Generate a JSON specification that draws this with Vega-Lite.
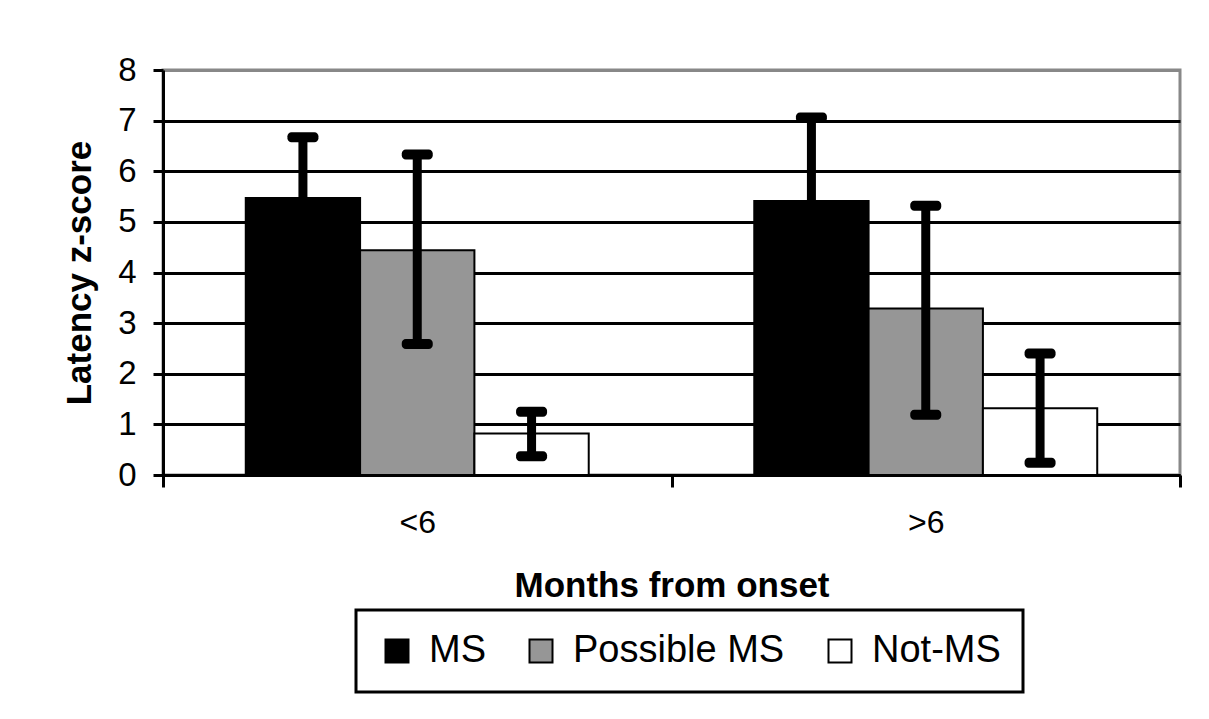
{
  "$schema": "https://vega.github.io/schema/vega-lite/v6.json",
  "width": 1017,
  "height": 405,
  "autosize": {"type": "none"},
  "padding": {"left": 163, "top": 70, "right": 29, "bottom": 244},
  "background": "white",
  "config": {
    "font": "Liberation Sans",
    "view": {"stroke": "#888888", "strokeWidth": 3}
  },
  "data": {
    "values": [
      {"onset": "<6", "group": "MS", "mean": 5.47, "lo": 4.27, "hi": 6.67},
      {"onset": "<6", "group": "Possible MS", "mean": 4.44, "lo": 2.59, "hi": 6.33},
      {"onset": "<6", "group": "Not-MS", "mean": 0.82, "lo": 0.37, "hi": 1.25},
      {"onset": ">6", "group": "MS", "mean": 5.41, "lo": 3.75, "hi": 7.06},
      {"onset": ">6", "group": "Possible MS", "mean": 3.29, "lo": 1.19, "hi": 5.32},
      {"onset": ">6", "group": "Not-MS", "mean": 1.32, "lo": 0.24, "hi": 2.4}
    ]
  },
  "encoding": {
    "x": {
      "field": "onset",
      "type": "nominal",
      "sort": ["<6", ">6"],
      "scale": {"paddingInner": 0, "paddingOuter": 0},
      "axis": {
        "title": "Months from onset",
        "titleFontSize": 35,
        "titleFontWeight": "bold",
        "titleColor": "black",
        "titlePadding": 30,
        "labelAngle": 0,
        "labelFontSize": 32,
        "labelColor": "black",
        "labelPadding": 20,
        "tickBand": "extent",
        "tickSize": 12,
        "tickWidth": 3,
        "tickColor": "black",
        "domainColor": "black",
        "domainWidth": 3,
        "grid": false
      }
    },
    "xOffset": {
      "field": "group",
      "type": "nominal",
      "sort": ["MS", "Possible MS", "Not-MS"],
      "scale": {"paddingInner": 0, "paddingOuter": 0.724}
    }
  },
  "layer": [
    {
      "mark": {"type": "bar", "stroke": "black", "strokeWidth": 2},
      "encoding": {
        "y": {
          "field": "mean",
          "type": "quantitative",
          "scale": {"domain": [0, 8], "nice": false},
          "axis": {
            "title": "Latency z-score",
            "titleFontSize": 35,
            "titleFontWeight": "bold",
            "titleColor": "black",
            "titlePadding": 20,
            "values": [0, 1, 2, 3, 4, 5, 6, 7, 8],
            "labelFontSize": 33,
            "labelColor": "black",
            "labelPadding": 17,
            "tickSize": 10,
            "tickWidth": 3,
            "tickColor": "black",
            "domainColor": "black",
            "domainWidth": 3,
            "grid": true,
            "gridWidth": 3,
            "gridColor": {"condition": {"test": "datum.value === 8", "value": "#888888"}, "value": "black"}
          }
        },
        "color": {
          "field": "group",
          "type": "nominal",
          "sort": ["MS", "Possible MS", "Not-MS"],
          "scale": {"domain": ["MS", "Possible MS", "Not-MS"], "range": ["#000000", "#969696", "#ffffff"]},
          "legend": {
            "title": null,
            "orient": "none",
            "direction": "horizontal",
            "legendX": 193,
            "legendY": 540,
            "symbolType": "square",
            "symbolSize": 529,
            "symbolStrokeColor": "black",
            "symbolStrokeWidth": 2,
            "symbolOpacity": 1,
            "labelFontSize": 38,
            "labelColor": "black",
            "labelLimit": 500,
            "labelOffset": 13,
            "columnPadding": 36,
            "padding": 22,
            "strokeColor": "black",
            "encode": {"legend": {"update": {"strokeWidth": {"value": 3}}}}
          }
        }
      }
    },
    {
      "mark": {"type": "rule", "color": "black", "strokeWidth": 9},
      "encoding": {
        "y": {"field": "lo", "type": "quantitative"},
        "y2": {"field": "hi"}
      }
    },
    {
      "mark": {"type": "tick", "color": "black", "size": 31, "thickness": 10, "cornerRadius": 4, "opacity": 1},
      "encoding": {"y": {"field": "hi", "type": "quantitative"}}
    },
    {
      "mark": {"type": "tick", "color": "black", "size": 31, "thickness": 10, "cornerRadius": 4, "opacity": 1},
      "encoding": {"y": {"field": "lo", "type": "quantitative"}}
    }
  ]
}
